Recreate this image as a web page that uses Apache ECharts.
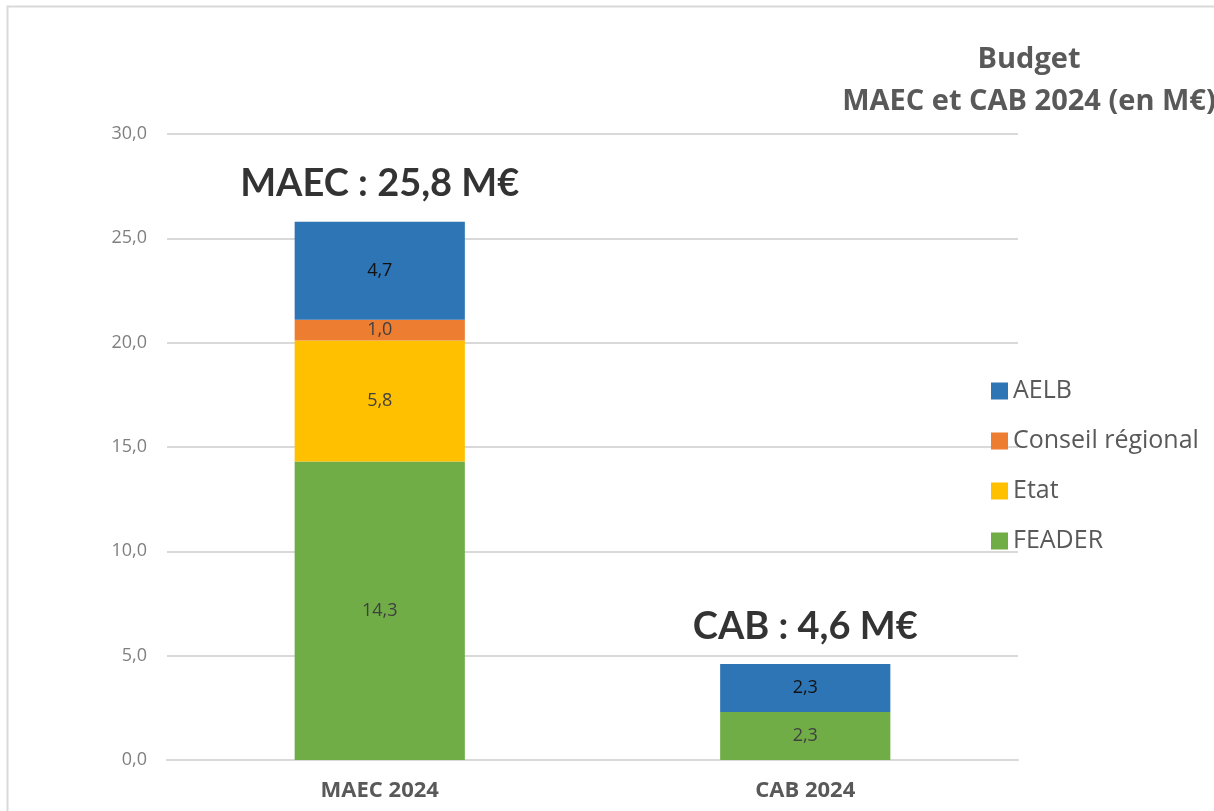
<!DOCTYPE html>
<html>
<head>
<meta charset="utf-8">
<script src="https://cdn.jsdelivr.net/npm/echarts@6/dist/echarts.min.js"></script>
<style>
html, body { margin: 0; width: 100%; height: 100%; background: #fff; }
#chart { width: 1214px; height: 811px; }
</style>
</head>
<body>
<div id="chart"></div>
<script>
// data
const categories = ['MAEC 2024', 'CAB 2024'];
const totalNames = ['MAEC', 'CAB'];
const feader = [14.3, 2.3];
const etat = [5.8, null];
const conseil = [1.0, null];
const aelb = [4.7, 2.3];
const legendOrder = ['AELB', 'Conseil régional', 'Etat', 'FEADER'];

const totals = categories.map((c, i) =>
    [feader, etat, conseil, aelb].reduce((s, arr) => s + (arr[i] || 0), 0)
);

const fmt = (v) => v.toFixed(1).replace('.', ',');

const chart = echarts.init(document.getElementById('chart'));

const barSeries = (name, data, color, labelColor) => ({
    name,
    type: 'bar',
    stack: 'budget',
    barWidth: '40%',
    data,
    itemStyle: { color },
    label: {
        show: true,
        position: 'inside',
        color: labelColor,
        fontSize: 18,
        fontFamily: 'Open Sans',
        formatter: (p) => fmt(p.value),
    },
});

const option = {
    animation: false,
    graphic: [
        {
            type: 'rect',
            shape: { x: 7.5, y: 6.5, width: 1300, height: 900 },
            style: { fill: 'none', stroke: '#d9d9d9', lineWidth: 2 },
            silent: true,
        },
    ],
    title: {
        text: 'Budget\nMAEC et CAB 2024 (en M€)',
        top: 34,
        textAlign: 'center',
        left: 1024,
        textStyle: {
            color: '#595959',
            fontSize: 29,
            fontWeight: 'bold',
            fontFamily: 'Open Sans',
            lineHeight: 42,
        },
    },
    legend: {
        data: legendOrder,
        orient: 'vertical',
        left: 986,
        top: 373,
        itemWidth: 17,
        itemHeight: 17,
        itemGap: 24,
        icon: 'rect',
        textStyle: {
            color: '#595959',
            fontSize: 25,
            fontFamily: 'Open Sans',
            lineHeight: 26,
            padding: [0, 0, 0, 0],
        },
    },
    grid: { left: 167, right: 196, top: 134, bottom: 51 },
    xAxis: {
        type: 'category',
        data: categories,
        axisLine: { lineStyle: { color: '#d9d9d9', width: 2 } },
        axisTick: { show: false },
        axisLabel: {
            color: '#595959',
            fontSize: 22,
            fontWeight: 'bold',
            fontFamily: 'Open Sans',
            margin: 20,
        },
    },
    yAxis: {
        type: 'value',
        min: 0,
        max: 30,
        interval: 5,
        axisLine: { show: false },
        axisTick: { show: false },
        splitLine: { lineStyle: { color: '#d9d9d9', width: 2 } },
        axisLabel: {
            color: '#7f7f7f',
            fontSize: 18,
            fontFamily: 'Open Sans',
            margin: 20,
            formatter: (v) => fmt(v),
        },
    },
    series: [
        barSeries('FEADER', feader, '#70AD47', '#404040'),
        barSeries('Etat', etat, '#FFC000', '#404040'),
        barSeries('Conseil régional', conseil, '#ED7D31', '#404040'),
        barSeries('AELB', aelb, '#2E75B6', '#111111'),
        {
            name: 'total',
            type: 'scatter',
            data: totals,
            symbolSize: 1,
            itemStyle: { color: 'rgba(0,0,0,0)' },
            silent: true,
            label: {
                show: true,
                position: 'top',
                distance: 18,
                color: '#000',
                fontSize: 38,
                fontWeight: 'bold',
                fontFamily: 'Lato',
                formatter: (p) => totalNames[p.dataIndex] + ' : ' + fmt(p.value) + ' M€',
            },
        },
    ],
};

chart.setOption(option);
</script>
</body>
</html>
